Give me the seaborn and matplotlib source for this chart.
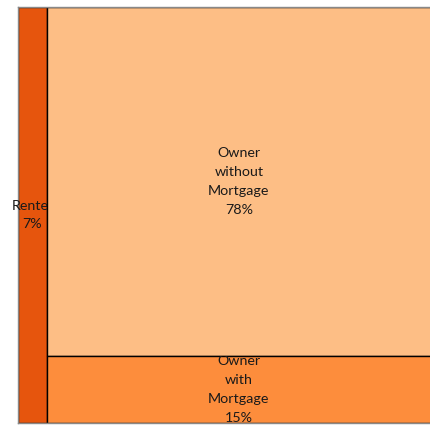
import matplotlib
matplotlib.use("Agg")
import matplotlib.pyplot as plt
import matplotlib.patches as mpatches
import seaborn as sns

labels = ["Renter", "Owner\nwithout\nMortgage", "Owner\nwith\nMortgage"]
shares = [7, 78, 15]
colors = ["#e6550d", "#fdbe85", "#fd8d3c"]

sns.set_style("white")
plt.rcParams["font.family"] = ["Lato", "DejaVu Sans"]

fig = plt.figure(figsize=(4.30, 4.26), dpi=100)
ax = fig.add_axes([18 / 430, 3 / 426, 1 - 18 / 430 + 0.002, 416 / 426])
ax.set_xlim(0, 100)
ax.set_ylim(0, 100)

# renter strip on the left, owners split the rest vertically
rest = 100 - shares[0]
without_h = shares[1] / rest * 100
rects = [
    (0, 0, shares[0], 100),
    (shares[0], 100 - without_h, rest, without_h),
    (shares[0], 0, rest, 100 - without_h),
]

for (x, y, w, h), lab, pct, col in zip(rects, labels, shares, colors):
    ax.add_patch(mpatches.Rectangle((x, y), w, h, facecolor=col,
                                    edgecolor="black", linewidth=1.0))
    clip = mpatches.Rectangle((x - 50, y), w + 50, h, transform=ax.transData)
    t = ax.text(x + w / 2, y + h / 2, f"{lab}\n{pct}%", ha="center", va="center",
                fontsize=10.3, color="#1a1a1a", linespacing=1.68, clip_on=True)
    t.set_clip_path(clip)

ax.set_xticks([])
ax.set_yticks([])
for s in ax.spines.values():
    s.set_color("#888888")
    s.set_linewidth(1.0)

fig.savefig("out.png", dpi=100)
